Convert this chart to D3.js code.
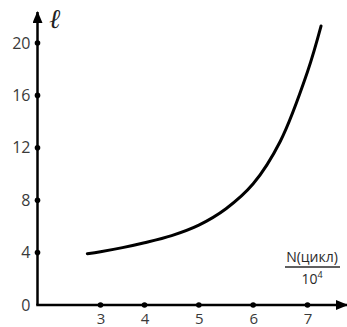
<!DOCTYPE html>
<html>
<head>
<meta charset="utf-8">
<script src="https://cdn.jsdelivr.net/npm/d3@7"></script>
<style>
  body { margin: 0; background: #fff; }
  svg { display: block; }
</style>
</head>
<body>
<svg id="chart"></svg>
<script>
// data
const xTicks = [3, 4, 5, 6, 7];
const yTicks = [0, 4, 8, 12, 16, 20];
const cycles = [2.7, 3.0, 3.5, 4.0, 4.5, 5.0, 5.5, 6.0, 6.5, 7.0, 7.25]; // N / 10^4
const ell = [3.92, 4.07, 4.38, 4.75, 5.3, 6.1, 7.35, 9.25, 12.5, 17.8, 21.3];

const width = 347,
  height = 327;
const originX = 37.5,
  originY = 305;

const svg = d3.select("#chart").attr("width", width).attr("height", height);

// the tick marks in the drawing are not evenly spaced, so a piecewise scale
const xScale = d3.scaleLinear().domain([3, 4, 7]).range([100.5, 144.5, 307.5]);
const yScale = d3.scaleLinear().domain([0, 20]).range([originY, 43]);

/**
 * arrow head
 */
const defs = svg.append("defs");
defs
  .append("marker")
  .attr("id", "arrow")
  .attr("viewBox", "0 0 12 10")
  .attr("refX", 11)
  .attr("refY", 5)
  .attr("markerWidth", 12)
  .attr("markerHeight", 10)
  .attr("markerUnits", "userSpaceOnUse")
  .attr("orient", "auto")
  .append("path")
  .attr("d", "M0,0 L12,5 L0,10 Z")
  .attr("fill", "#000");

/**
 * axes lines
 */
svg
  .append("line")
  .attr("x1", originX)
  .attr("y1", originY)
  .attr("x2", originX)
  .attr("y2", 12)
  .attr("stroke", "#000")
  .attr("stroke-width", 2.5)
  .attr("marker-end", "url(#arrow)");

svg
  .append("line")
  .attr("x1", originX - 1.25)
  .attr("y1", originY)
  .attr("x2", 347)
  .attr("y2", originY)
  .attr("stroke", "#000")
  .attr("stroke-width", 2.5)
  .attr("marker-end", "url(#arrow)");

/**
 * tick labels via d3 axes (no tick lines, dots instead)
 */
const yAxis = d3.axisLeft(yScale).tickValues(yTicks).tickSize(0).tickPadding(7).tickFormat(d3.format("d"));
const gy = svg.append("g").attr("transform", `translate(${originX},0)`).call(yAxis);

const xAxis = d3.axisBottom(xScale).tickValues(xTicks).tickSize(0).tickPadding(8).tickFormat(d3.format("d"));
const gx = svg.append("g").attr("transform", `translate(0,${originY})`).call(xAxis);

[gy, gx].forEach(g => {
  g.select(".domain").remove();
  g.selectAll("text")
    .attr("font-family", "'Open Sans', sans-serif")
    .attr("font-size", 16)
    .attr("fill", "#3a3a3a");
});
gx.selectAll("text").attr("font-size", 15);

// tick dots
svg
  .selectAll(".ydot")
  .data(yTicks.filter(d => d > 0))
  .enter()
  .append("circle")
  .attr("cx", originX)
  .attr("cy", d => yScale(d))
  .attr("r", 2.8)
  .attr("fill", "#000");

svg
  .selectAll(".xdot")
  .data(xTicks)
  .enter()
  .append("circle")
  .attr("cx", d => xScale(d))
  .attr("cy", originY)
  .attr("r", 2.8)
  .attr("fill", "#000");

/**
 * the curve
 */
const points = cycles.map((c, i) => [c, ell[i]]);
const line = d3
  .line()
  .x(d => xScale(d[0]))
  .y(d => yScale(d[1]))
  .curve(d3.curveCatmullRom.alpha(0.5));

svg
  .append("path")
  .datum(points)
  .attr("d", line)
  .attr("fill", "none")
  .attr("stroke", "#000")
  .attr("stroke-width", 3)
  .attr("stroke-linecap", "round");

/**
 * axis titles
 */
svg
  .append("text")
  .attr("x", 49)
  .attr("y", 28)
  .attr("font-family", "'DejaVu Serif', serif")
  .attr("font-style", "italic")
  .attr("font-size", 27)
  .attr("fill", "#222")
  .text("ℓ");

const frac = svg.append("g").attr("font-family", "'Open Sans', sans-serif").attr("fill", "#2a2a2a");
frac
  .append("text")
  .attr("x", 312)
  .attr("y", 262)
  .attr("text-anchor", "middle")
  .attr("font-size", 14)
  .text("N(цикл)");
frac
  .append("line")
  .attr("x1", 285)
  .attr("x2", 340)
  .attr("y1", 267)
  .attr("y2", 267)
  .attr("stroke", "#2a2a2a")
  .attr("stroke-width", 1.3);
const ten = frac
  .append("text")
  .attr("x", 312)
  .attr("y", 284)
  .attr("text-anchor", "middle")
  .attr("font-size", 14);
ten.append("tspan").text("10");
ten.append("tspan").attr("font-size", 9).attr("dy", -6).text("4");
</script>
</body>
</html>
